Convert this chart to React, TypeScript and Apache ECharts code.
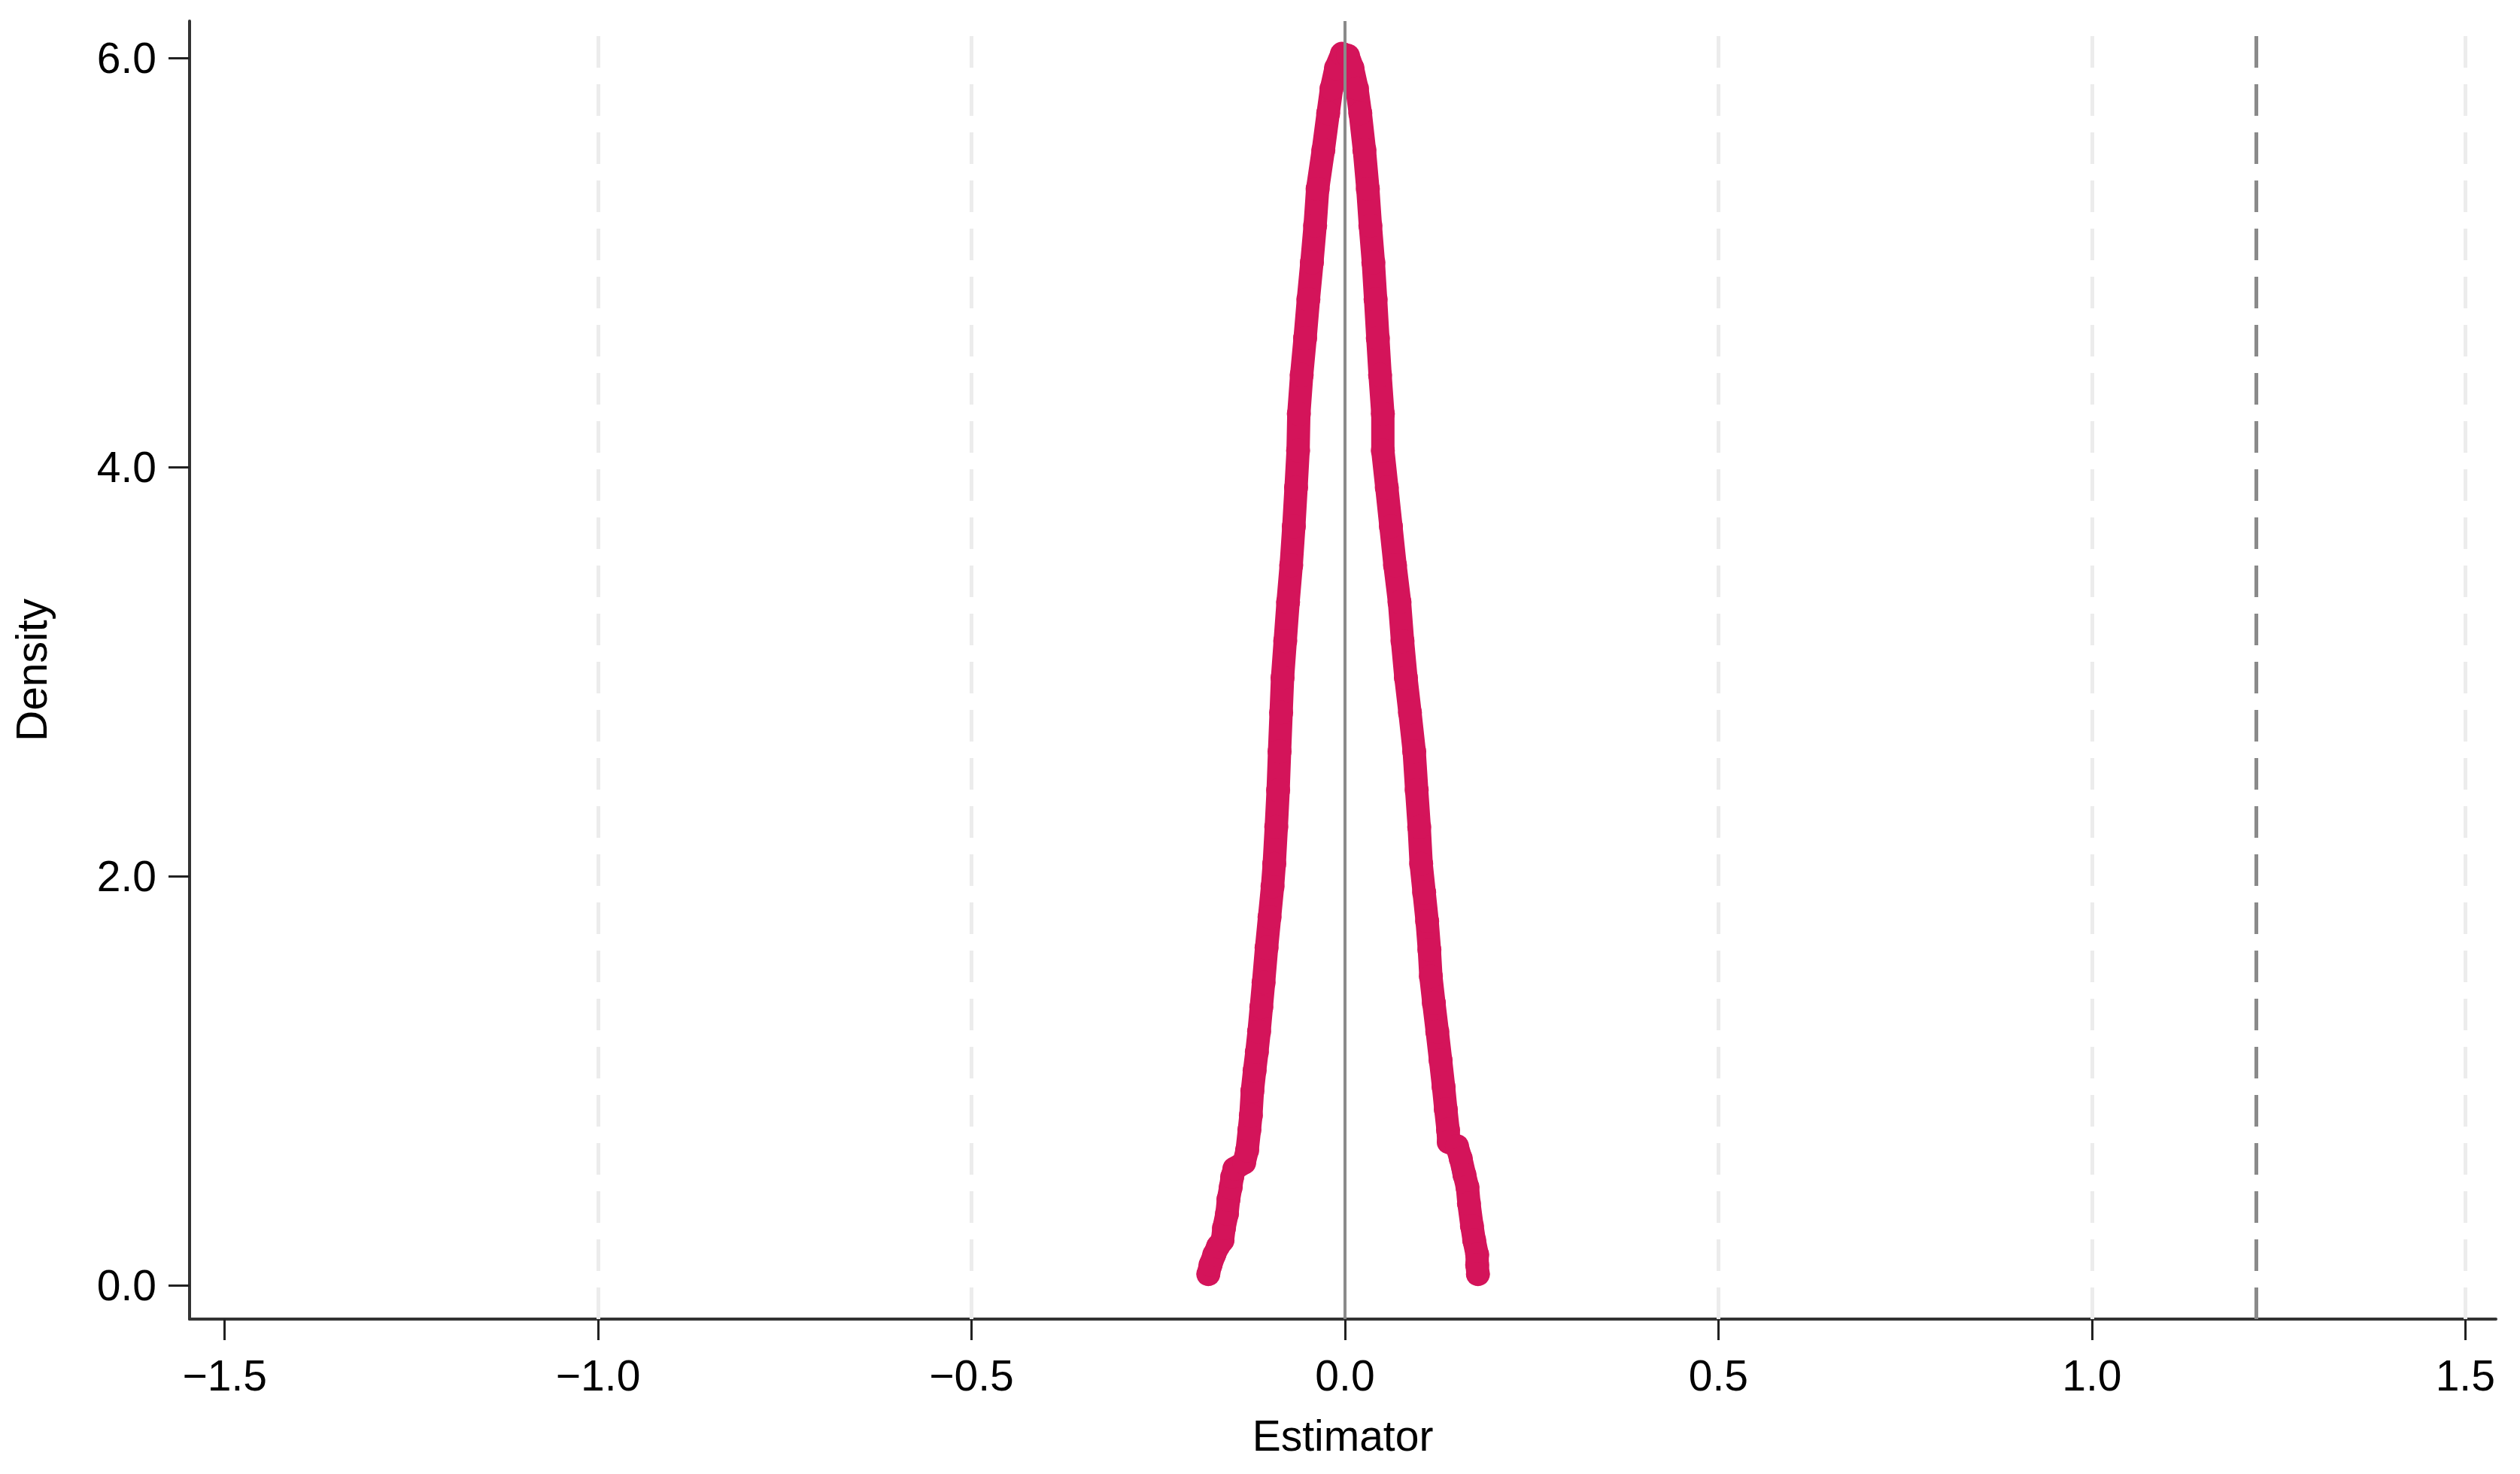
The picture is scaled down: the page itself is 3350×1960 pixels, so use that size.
import React, { useEffect, useRef } from "react";
import * as echarts from "echarts";

// Estimator values (x) and density values (y) of the plotted points
const estimatorValues = [
  -0.183, -0.18, -0.175, -0.17, -0.164, -0.162, -0.158, -0.156, -0.153, -0.151, -0.148,
  -0.135, -0.131, -0.128, -0.126, -0.124, -0.121, -0.118, -0.115, -0.112, -0.109, -0.105,
  -0.101, -0.097, -0.0947, -0.092, -0.0895, -0.0876, -0.0855, -0.0836, -0.08, -0.0762,
  -0.072, -0.0685, -0.0655, -0.0628, -0.0618, -0.058, -0.0534, -0.049, -0.0443, -0.04,
  -0.0366, -0.029, -0.0225, -0.018, -0.012, -0.004,
  0.004, 0.01, 0.016, 0.0205, 0.026, 0.0306, 0.034, 0.038, 0.041, 0.044, 0.047, 0.0507,
  0.0507, 0.056, 0.0615, 0.067, 0.073, 0.077, 0.0816, 0.087, 0.0927, 0.096, 0.0994, 0.102,
  0.106, 0.11, 0.113, 0.115, 0.119, 0.1236, 0.128, 0.132, 0.135, 0.138, 0.139, 0.15, 0.155,
  0.16, 0.164, 0.166, 0.17, 0.173, 0.177, 0.177, 0.178,
];
const densityValues = [
  0.055, 0.1, 0.15, 0.19, 0.22, 0.28, 0.35, 0.42, 0.48, 0.53, 0.57,
  0.6, 0.66, 0.76, 0.83, 0.95, 1.05, 1.14, 1.24, 1.36, 1.48, 1.65,
  1.8, 1.95, 2.06, 2.24, 2.42, 2.61, 2.8, 2.97, 3.15, 3.34,
  3.52, 3.71, 3.9, 4.08, 4.26, 4.45, 4.63, 4.82, 5.0, 5.18,
  5.36, 5.55, 5.73, 5.85, 5.95, 6.02,
  6.01, 5.95, 5.85, 5.73, 5.55, 5.36, 5.18, 5.0, 4.82, 4.63, 4.45, 4.26,
  4.08, 3.9, 3.71, 3.52, 3.34, 3.15, 2.97, 2.8, 2.61, 2.42, 2.24, 2.06,
  1.92, 1.78, 1.64, 1.51, 1.38, 1.24, 1.1, 0.97, 0.86, 0.76, 0.7, 0.68, 0.62,
  0.54, 0.48, 0.4, 0.29, 0.22, 0.15, 0.1, 0.055,
];

// Underlying (blue) line, visible only in the lower right tail
const lineX = [0.132, 0.135, 0.138, 0.139, 0.143, 0.147, 0.16, 0.166, 0.17, 0.173, 0.177, 0.178];
const lineY = [0.97, 0.86, 0.76, 0.7, 0.6, 0.52, 0.45, 0.4, 0.29, 0.22, 0.15, 0.055];

const xTicks = [-1.5, -1.0, -0.5, 0.0, 0.5, 1.0, 1.5];
const yTicks = [0, 2, 4, 6];
const gridXLines = [-1.0, -0.5, 0.5, 1.0, 1.5];
const zeroLine = 0;
const referenceLine = 1.221;

const FONT = "'Liberation Sans', Arial, sans-serif";
const fmt = (v: number) => v.toFixed(1).replace("-", "\u2212");

export default function App() {
  const ref = useRef<HTMLDivElement>(null);
  useEffect(() => {
    if (!ref.current) return;
    const chart = echarts.init(ref.current, undefined, { renderer: "svg" });
    const points = estimatorValues.map((x, i) => [x, densityValues[i]]);
    const linePts = lineX.map((x, i) => [x, lineY[i]]);
    chart.setOption({
      animation: false,
      backgroundColor: "#ffffff",
      grid: { left: 252, right: 32, top: 28, bottom: 206, containLabel: false },
      xAxis: {
        type: "value",
        min: -1.547,
        max: 1.541,
        name: "Estimator",
        nameLocation: "middle",
        nameGap: 126,
        nameTextStyle: { fontSize: 57, fontFamily: FONT, color: "#000" },
        axisLine: { show: true, onZero: false, lineStyle: { color: "#333", width: 4 } },
        axisTick: { show: true, length: 28, customValues: xTicks, lineStyle: { color: "#222", width: 3 } },
        axisLabel: {
          customValues: xTicks,
          formatter: fmt,
          fontSize: 57,
          fontFamily: FONT,
          color: "#000",
          margin: 46,
        },
        splitLine: { show: false },
      },
      yAxis: {
        type: "value",
        min: -0.165,
        max: 6.18,
        name: "Density",
        nameLocation: "middle",
        nameGap: 182,
        nameRotate: 90,
        nameTextStyle: { fontSize: 57, fontFamily: FONT, color: "#000" },
        axisLine: { show: true, onZero: false, lineStyle: { color: "#333", width: 4 } },
        axisTick: { show: true, length: 28, customValues: yTicks, lineStyle: { color: "#222", width: 3 } },
        axisLabel: {
          customValues: yTicks,
          formatter: fmt,
          fontSize: 57,
          fontFamily: FONT,
          color: "#000",
          margin: 44,
        },
        splitLine: { show: false },
      },
      series: [
        {
          type: "line",
          data: [],
          silent: true,
          markLine: {
            silent: true,
            symbol: "none",
            label: { show: false },
            animation: false,
            data: [
              ...gridXLines.map((v) => ({
                xAxis: v,
                lineStyle: { color: "#ececec", width: 5, type: [42, 22] },
              })),
              { xAxis: zeroLine, lineStyle: { color: "#8a8a8a", width: 4, type: "solid" } },
              { xAxis: referenceLine, lineStyle: { color: "#8a8a8a", width: 5, type: [42, 22] } },
            ],
          },
        },
        {
          type: "line",
          data: linePts,
          showSymbol: false,
          silent: true,
          lineStyle: { color: "#1f8ef1", width: 4 },
        },
        {
          type: "line",
          data: points,
          silent: true,
          symbol: "circle",
          symbolSize: 32,
          showSymbol: true,
          itemStyle: { color: "#d4145a" },
          lineStyle: { color: "#d4145a", width: 31, cap: "round", join: "round" },
        },
      ],
    });
    return () => chart.dispose();
  }, []);
  return (
    <div
      ref={ref}
      style={{ position: "fixed", left: 0, top: 0, width: 3350, height: 1960, background: "#fff" }}
    />
  );
}
